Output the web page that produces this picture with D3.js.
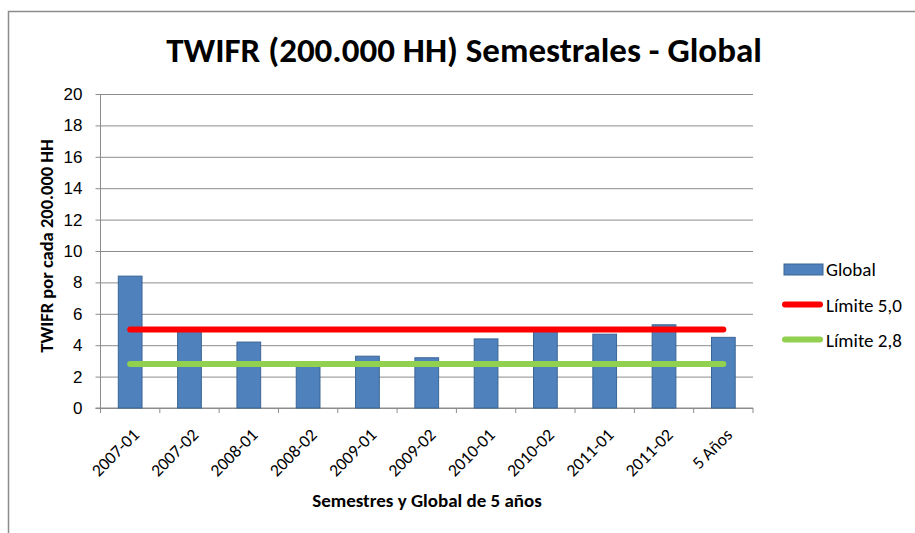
<!DOCTYPE html>
<html>
<head>
<meta charset="utf-8">
<script src="https://cdn.jsdelivr.net/npm/d3@7"></script>
<style>
    body { margin: 0; background: #fff; }
    svg { display: block; font-family: Carlito, Calibri, Lato, sans-serif; }
    .grid line { stroke: #8c8c8c; stroke-width: 1; }
    .axisLine { stroke: #8c8c8c; stroke-width: 1; fill: none; }
    .tickLabel { fill: #000; font-size: 17.5px; }
</style>
</head>
<body>
<script>
(function () {
//Chart data
    var categories = ["2007-01","2007-02","2008-01","2008-02","2009-01","2009-02","2010-01","2010-02","2011-01","2011-02","5 Años"];
    var globalValues = [8.4, 4.9, 4.2, 2.7, 3.3, 3.2, 4.4, 5.0, 4.7, 5.3, 4.5];
    var limite50 = [5.0, 5.0, 5.0, 5.0, 5.0, 5.0, 5.0, 5.0, 5.0, 5.0, 5.0];
    var limite28 = [2.8, 2.8, 2.8, 2.8, 2.8, 2.8, 2.8, 2.8, 2.8, 2.8, 2.8];
    var yTicks = [0, 2, 4, 6, 8, 10, 12, 14, 16, 18, 20];
    var seriesNames = ["Global", "Límite 5,0", "Límite 2,8"];

//Frame dimensions
    var width = 915,
        height = 533,
        plotLeft = 100.5,
        plotRight = 753,
        plotTop = 94,
        plotBottom = 408;

    var svg = d3.select("body")
        .append("svg")
        .attr("width", width)
        .attr("height", height);

//Outer chart border (runs off the right and bottom edges)
    svg.append("rect")
        .attr("x", 8.5)
        .attr("y", 11.5)
        .attr("width", 940)
        .attr("height", 560)
        .attr("fill", "#fff")
        .attr("stroke", "#8c8c8c")
        .attr("stroke-width", 1.5);

//Scales
    var xScale = d3.scaleBand()
        .domain(categories)
        .range([plotLeft, plotRight])
        .paddingInner(0.6)
        .paddingOuter(0.3);

    var step = xScale.step();

    var yScale = d3.scaleLinear()
        .domain([0, 20])
        .range([plotBottom, plotTop]);

//Horizontal gridlines with tick marks
    var yAxis = d3.axisLeft(yScale)
        .tickValues(yTicks)
        .tickSize(-(plotRight - plotLeft))
        .tickPadding(18)
        .tickFormat(d3.format("d"));

    var gy = svg.append("g")
        .attr("class", "grid")
        .attr("transform", "translate(" + plotLeft + ",0)")
        .call(yAxis);
    gy.select(".domain").remove();
    gy.selectAll(".tick line")
        .attr("x1", -5);
    gy.selectAll(".tick text")
        .attr("class", "tickLabel")
        .attr("fill", "#000")
        .style("font-size", "17px");

//Y axis line
    svg.append("line")
        .attr("class", "axisLine")
        .attr("x1", plotLeft).attr("x2", plotLeft)
        .attr("y1", plotTop).attr("y2", plotBottom);

//X axis line and category boundary ticks
    svg.append("line")
        .attr("class", "axisLine")
        .attr("x1", plotLeft - 5).attr("x2", plotRight)
        .attr("y1", plotBottom).attr("y2", plotBottom);

    var boundaries = d3.range(categories.length + 1);
    svg.selectAll(".xTick")
        .data(boundaries)
        .enter()
        .append("line")
        .attr("class", "axisLine xTick")
        .attr("x1", function(d){ return plotLeft + d * step; })
        .attr("x2", function(d){ return plotLeft + d * step; })
        .attr("y1", plotBottom)
        .attr("y2", plotBottom + 5);

//Rotated category labels
    svg.selectAll(".xLabel")
        .data(categories)
        .enter()
        .append("text")
        .attr("class", "tickLabel xLabel")
        .attr("text-anchor", "end")
        .attr("transform", function(d){
            var cx = xScale(d) + xScale.bandwidth() / 2 + 10;
            return "translate(" + cx + "," + (plotBottom + 28) + ") rotate(-45)";
        })
        .text(function(d){ return d; });

//Bars
    svg.selectAll(".bar")
        .data(globalValues)
        .enter()
        .append("rect")
        .attr("class", "bar")
        .attr("x", function(d, i){ return xScale(categories[i]); })
        .attr("width", xScale.bandwidth())
        .attr("y", function(d){ return yScale(d); })
        .attr("height", function(d){ return plotBottom - yScale(d); })
        .attr("fill", "#4f81bd")
        .attr("stroke", "#3a6595")
        .attr("stroke-width", 1);

//Limit lines
    var line = d3.line()
        .x(function(d, i){ return xScale(categories[i]) + xScale.bandwidth() / 2; })
        .y(function(d){ return yScale(d); });

    svg.append("path")
        .datum(limite50)
        .attr("d", line)
        .attr("fill", "none")
        .attr("stroke", "#ff0000")
        .attr("stroke-width", 6)
        .attr("stroke-linecap", "round");

    svg.append("path")
        .datum(limite28)
        .attr("d", line)
        .attr("fill", "none")
        .attr("stroke", "#92d050")
        .attr("stroke-width", 6)
        .attr("stroke-linecap", "round");

//Title
    svg.append("text")
        .attr("x", 464)
        .attr("y", 62)
        .attr("text-anchor", "middle")
        .style("font-size", "35px")
        .style("font-weight", "bold")
        .text("TWIFR (200.000 HH) Semestrales - Global");

//Axis titles
    svg.append("text")
        .attr("transform", "translate(53,246) rotate(-90)")
        .attr("text-anchor", "middle")
        .style("font-size", "18.5px")
        .style("font-weight", "bold")
        .text("TWIFR por cada 200.000 HH");

    svg.append("text")
        .attr("x", 427)
        .attr("y", 507)
        .attr("text-anchor", "middle")
        .style("font-size", "19px")
        .style("font-weight", "bold")
        .text("Semestres y Global de 5 años");

//Legend
    var legend = svg.append("g")
        .attr("class", "legend");

    legend.append("rect")
        .attr("x", 784)
        .attr("y", 264)
        .attr("width", 39)
        .attr("height", 11)
        .attr("fill", "#4f81bd")
        .attr("stroke", "#3a6595");

    legend.append("line")
        .attr("x1", 785).attr("x2", 820)
        .attr("y1", 304.5).attr("y2", 304.5)
        .attr("stroke", "#ff0000")
        .attr("stroke-width", 6)
        .attr("stroke-linecap", "round");

    legend.append("line")
        .attr("x1", 785).attr("x2", 820)
        .attr("y1", 339.5).attr("y2", 339.5)
        .attr("stroke", "#92d050")
        .attr("stroke-width", 6)
        .attr("stroke-linecap", "round");

    legend.selectAll(".legendText")
        .data(seriesNames)
        .enter()
        .append("text")
        .attr("class", "legendText")
        .attr("x", 826)
        .attr("y", function(d, i){ return 276 + i * 35.5; })
        .style("font-size", "19px")
        .text(function(d){ return d; });
})();
</script>
</body>
</html>
